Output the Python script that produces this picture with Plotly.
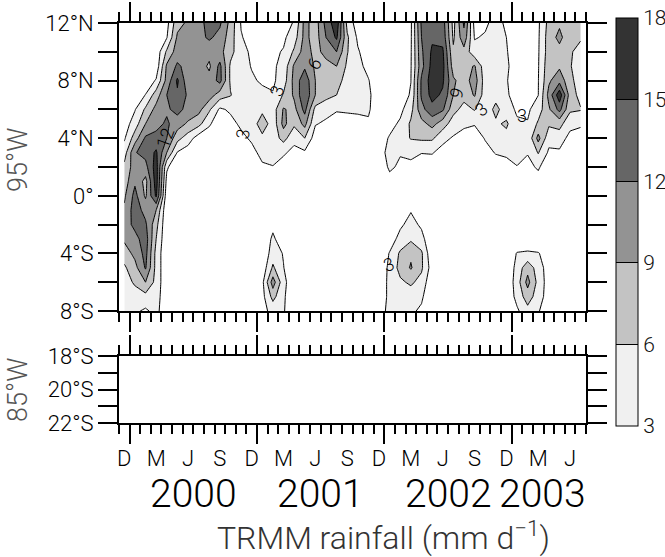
import numpy as np
import plotly.graph_objects as go

# ---------------- data ----------------
# latitude rows of the 95W Hovmoller section (north -> south)
lats = [12, 11, 10, 9, 8, 7, 6, 5, 4, 3, 2, 1, 0, -1, -2, -3, -4, -5, -6, -7, -8]

# monthly TRMM rainfall (mm/day), Dec 1999 ... Jul 2003; one list per month, values per latitude above
rain_by_month = [
    [1, 1, 1, 1, 1, 1, 1, 1.5, 2.6, 4.5, 6.8, 7.5, 8.5, 9.5, 10.5, 9.5, 7.5, 5.5, 4.5, 4.0, 4.0],      # Dec 1999
    [1, 1, 1, 1, 1, 1, 2.8, 4.5, 7.5, 11.8, 10.5, 11.5, 13, 13.5, 12.8, 11, 9.8, 8, 6.5, 4.5, 3.5],   # Jan 2000
    [1, 1, 1, 1, 1, 3.1, 6.5, 9, 12.5, 13, 11, 8, 8.5, 11, 12.5, 13.5, 13, 12.3, 9, 5, 2.5],
    [1, 1, 1, 1, 3.3, 7.5, 10, 11, 13, 15.5, 16.5, 16.5, 15.5, 9, 7, 6, 5, 5, 5, 4.5, 4],
    [2, 2.8, 6.5, 9.5, 10, 12, 11.5, 12.5, 12, 9, 3.5, 2, 1, 0.5, 0.5, 0.5, 0.5, 0.5, 0.5, 0.5, 0.5],
    [8, 9.5, 10.5, 12.5, 15.5, 14.5, 13, 10.5, 7, 2.8, 0.5, 0.5, 0.5, 0.5, 0.5, 0.5, 0.5, 0.5, 0.5, 0.5, 0.5],
    [9.5, 11, 11.5, 11, 10, 11.5, 11, 8.5, 4.5, 1.5, 0.5, 0.5, 0.5, 0.5, 0.5, 0.5, 0.5, 0.5, 0.5, 0.5, 0.5],
    [10.5, 11, 11, 10.5, 10.5, 11, 10, 7, 1.5, 0.5, 0.5, 0.5, 0.5, 0.5, 0.5, 0.5, 0.5, 0.5, 0.5, 0.5, 0.5],
    [13.5, 12.5, 10, 8.5, 10, 10.5, 6.5, 3.5, 1, 0.5, 0.5, 0.5, 0.5, 0.5, 0.5, 0.5, 0.5, 0.5, 0.5, 0.5, 0.5],
    [12.5, 11, 10, 12.8, 13, 7.5, 2.5, 0.8, 0.5, 0.5, 0.5, 0.5, 0.5, 0.5, 0.5, 0.5, 0.5, 0.5, 0.5, 0.5, 0.5],
    [8, 7.5, 7, 5.5, 5.5, 6.2, 3.5, 2, 0.5, 0.5, 0.5, 0.5, 0.5, 0.5, 0.5, 0.5, 0.5, 0.5, 0.5, 0.5, 0.5],
    [2.8, 3.2, 4, 4.5, 4.5, 4, 4, 3.6, 2.2, 0.5, 0.5, 0.5, 0.5, 0.5, 0.5, 0.5, 0.5, 0.5, 0.5, 0.5, 0.5],
    [1.5, 2, 2.5, 2.8, 3.5, 3.8, 4.5, 3.7, 3.5, 2, 0.5, 0.5, 0.5, 0.5, 0.5, 0.5, 0.5, 0.5, 0.5, 0.5, 0.5],  # Dec 2000
    [1.5, 1.5, 2, 2, 2.5, 4, 5, 8.3, 5, 4, 2.5, 0.5, 0.5, 0.5, 0.5, 0.5, 0.5, 1, 2.2, 2, 2],            # Jan 2001
    [1.5, 2, 2.5, 2.5, 2.5, 3.2, 4.5, 4, 4.5, 4, 2.9, 0.5, 0.5, 0.5, 2.2, 3.6, 4.5, 6.5, 10.5, 7, 4],
    [2, 2.5, 3.2, 4, 4.5, 6.3, 9.3, 10, 7, 3.5, 1.5, 0.5, 0.5, 0.5, 0.5, 1, 2.8, 3.1, 4, 3.5, 3.3],
    [3.2, 4.5, 6.5, 9.5, 10, 9.5, 8, 6.5, 4, 2, 0.5, 0.5, 0.5, 0.5, 0.5, 0.5, 0.5, 0.5, 0.5, 0.5, 0.5],
    [10, 10, 10.5, 11.5, 14, 14.5, 13, 10, 6, 2.5, 0.5, 0.5, 0.5, 0.5, 0.5, 0.5, 0.5, 0.5, 0.5, 0.5, 0.5],
    [7.5, 7.5, 8, 8.5, 9, 9, 5, 3.2, 1.5, 0.5, 0.5, 0.5, 0.5, 0.5, 0.5, 0.5, 0.5, 0.5, 0.5, 0.5, 0.5],
    [13, 12, 10, 8, 7.5, 7, 4, 2.5, 0.5, 0.5, 0.5, 0.5, 0.5, 0.5, 0.5, 0.5, 0.5, 0.5, 0.5, 0.5, 0.5],
    [17, 15.5, 12, 9, 7, 6, 3.3, 1.5, 0.5, 0.5, 0.5, 0.5, 0.5, 0.5, 0.5, 0.5, 0.5, 0.5, 0.5, 0.5, 0.5],
    [5, 6.5, 6.2, 5.5, 5, 4.5, 3.5, 1.5, 0.5, 0.5, 0.5, 0.5, 0.5, 0.5, 0.5, 0.5, 0.5, 0.5, 0.5, 0.5, 0.5],
    [1.5, 2.5, 3.3, 4, 4, 4, 3.5, 2, 0.5, 0.5, 0.5, 0.5, 0.5, 0.5, 0.5, 0.5, 0.5, 0.5, 0.5, 0.5, 0.5],
    [1, 1, 1.5, 2, 3.2, 3.8, 3.5, 2.5, 0.5, 0.5, 0.5, 0.5, 0.5, 0.5, 0.5, 0.5, 0.5, 0.5, 0.5, 0.5, 0.5],
    [0.5, 0.5, 0.5, 0.5, 0.5, 0.5, 0.5, 0.5, 1.5, 2, 1, 0.5, 0.5, 0.5, 0.5, 0.5, 0.5, 0.5, 0.5, 0.5, 1.5],  # Dec 2001
    [0.5, 0.5, 0.5, 0.5, 0.5, 0.5, 0.5, 2, 3.3, 3.8, 3.5, 2, 0.5, 0.5, 0.5, 1.5, 3.2, 3.8, 4, 4, 4],         # Jan 2002
    [1, 1, 1, 1, 1, 1.5, 2.2, 3.5, 4.5, 3.2, 2.5, 0.5, 0.5, 0.5, 2.5, 4, 6.5, 7, 5.5, 4.5, 3.5],
    [2.5, 2.6, 2.7, 2.8, 2.95, 3.3, 5, 6.5, 6.2, 3.5, 2.5, 0.5, 0.5, 2.8, 4, 5.5, 8.5, 9.3, 6.5, 4.5, 3.5],
    [12.5, 12, 11.5, 11, 12.5, 12.5, 11, 8, 6.5, 3.1, 1.5, 0.5, 0.5, 1, 2.5, 4, 6.5, 6.5, 5, 3.5, 2.5],
    [14, 14.5, 15.5, 16, 16.5, 16, 14, 10, 6.5, 3.2, 1.5, 0.5, 0.5, 0.5, 0.5, 0.5, 0.5, 1.5, 0.5, 0.5, 0.5],
    [13.5, 14, 15.5, 16, 15.5, 14.5, 12.5, 7.5, 3.8, 2, 0.5, 0.5, 0.5, 0.5, 0.5, 0.5, 0.5, 0.5, 0.5, 0.5, 0.5],
    [5, 5.5, 6.5, 7.5, 9.5, 9, 7, 4.5, 2.7, 0.5, 0.5, 0.5, 0.5, 0.5, 0.5, 0.5, 0.5, 0.5, 0.5, 0.5, 0.5],
    [12.5, 11, 8, 7.5, 7.5, 7, 5, 3.5, 2, 0.5, 0.5, 0.5, 0.5, 0.5, 0.5, 0.5, 0.5, 0.5, 0.5, 0.5, 0.5],
    [2, 2.8, 4, 9.3, 10.5, 9.3, 6.2, 3.2, 1.5, 0.5, 0.5, 0.5, 0.5, 0.5, 0.5, 0.5, 0.5, 0.5, 0.5, 0.5, 0.5],
    [2.5, 3.3, 4, 4.2, 4.5, 4.5, 4.2, 3.8, 3.2, 2, 0.5, 0.5, 0.5, 0.5, 0.5, 0.5, 0.5, 0.5, 0.5, 0.5, 0.5],
    [4, 4.2, 4.5, 4.5, 4.2, 5, 6.8, 5.5, 4, 3.2, 1.5, 0.5, 0.5, 0.5, 0.5, 0.5, 0.5, 0.5, 0.5, 0.5, 0.5],
    [2.5, 3, 3.2, 3.5, 3.2, 3.5, 4.5, 6.5, 5, 3.5, 2, 0.5, 0.5, 0.5, 0.5, 0.5, 0.5, 0.5, 0.5, 0.5, 0.5],    # Dec 2002
    [1.5, 1.5, 1.5, 1.5, 1.5, 1.5, 2.5, 3.5, 4.5, 4, 2.9, 0.5, 0.5, 0.5, 0.5, 0.5, 3.2, 4, 4.5, 4, 2.5],    # Jan 2003
    [1.5, 1.5, 1.5, 1.5, 1.5, 2, 2.5, 3.2, 3.5, 3.2, 2, 1, 0.5, 0.5, 0.5, 0.5, 3.5, 8, 10, 7.5, 5],
    [2.5, 2.6, 2.7, 2.8, 2.9, 2.95, 4.5, 6.5, 10, 6.2, 3.5, 1.5, 0.5, 0.5, 0.5, 0.5, 3.2, 4.5, 5, 4.5, 3.2],
    [7, 7.5, 7.5, 8, 8.5, 10, 8.5, 6.5, 4, 2.5, 0.5, 0.5, 0.5, 0.5, 0.5, 0.5, 1.5, 1.5, 1.5, 1.5, 1.5],
    [8.5, 9.8, 8, 8.5, 11, 17, 13, 7, 4.5, 2.5, 0.5, 0.5, 0.5, 0.5, 0.5, 0.5, 0.5, 0.5, 0.5, 0.5, 0.5],
    [7.5, 7, 6.5, 6.2, 6.8, 7.5, 6.5, 4, 2, 1, 0.5, 0.5, 0.5, 0.5, 0.5, 0.5, 0.5, 0.5, 0.5, 0.5, 0.5],
    [7, 6.5, 4.5, 4.5, 4.5, 5, 6.2, 3.5, 1.5, 0.5, 0.5, 0.5, 0.5, 0.5, 0.5, 0.5, 0.5, 0.5, 0.5, 0.5, 0.5],  # Jul 2003
]

contour_levels = [3, 6, 9, 12, 15, 18]
band_colors = ['#f0f0f0', '#c3c3c3', '#939393', '#666666', '#333333']

month_labels = ['D', 'M', 'J', 'S', 'D', 'M', 'J', 'S', 'D', 'M', 'J', 'S', 'D', 'M', 'J']
year_labels = ['2000', '2001', '2002', '2003']
lat_main_text = ['12°N', '8°N', '4°N', '0°', '4°S', '8°S']
lat_main_vals = [12, 8, 4, 0, -4, -8]
lat_low_text = ['18°S', '20°S', '22°S']
lat_low_vals = [-18, -20, -22]

# contour labels (text, month, lat, angle)
contour_labels = [
    ('12', 3.3, 4.0, -70), ('3', 10.7, 4.3, -80), ('3', 13.9, 7.3, -70), ('6', 17.4, 9.2, -60),
    ('9', 30.8, 7.1, -70), ('3', 33.1, 6.0, -40), ('3', 37.0, 5.6, 0), ('3', 24.4, -4.8, -20),
]

# ---------------- derived ----------------
z = np.array(rain_by_month).T            # (lat, month)
x_month = np.arange(len(rain_by_month)) - 0.5   # months since 1 Jan 2000, mid-month
month_pos = [-0.5 + 3 * i for i in range(len(month_labels))]
year_pos = [6, 18, 30, 38.9]

W, H = 665, 557
FONT = 'Roboto'
FW = 300

# contour fill colour scale (below-3 band is white)
nlev = len(contour_levels)
fill_scale = [[0.0, 'white']]
for i, c in enumerate(band_colors):
    fill_scale.append([(i + 1) / nlev, c])
fill_scale.append([1.0, band_colors[-1]])

# colour bar scale (3..18, stepped)
cb_scale = []
nb = len(band_colors)
for i, c in enumerate(band_colors):
    cb_scale.append([i / nb, c])
    cb_scale.append([(i + 1) / nb, c])

fig = go.Figure()

fig.add_trace(go.Contour(
    x=x_month, y=lats, z=z,
    contours=dict(start=contour_levels[0], end=contour_levels[-1], size=3, coloring='fill', showlines=True),
    colorscale=fill_scale, showscale=False,
    line=dict(color='black', width=1, smoothing=0),
    hoverinfo='skip', xaxis='x', yaxis='y',
))

# colour bar carrier
fig.add_trace(go.Scatter(
    x=[None], y=[None], mode='markers', xaxis='x', yaxis='y', showlegend=False, hoverinfo='skip',
    marker=dict(color=[contour_levels[0]], cmin=contour_levels[0], cmax=contour_levels[-1],
                colorscale=cb_scale, showscale=True,
                colorbar=dict(xref='container', yref='container',
                              x=616 / W, xanchor='left', y=1 - 18 / H, yanchor='top',
                              len=(426 - 18) / H, lenmode='fraction', thickness=22, thicknessmode='pixels',
                              outlinewidth=1, outlinecolor='black', borderwidth=0, xpad=0, ypad=0,
                              tickvals=contour_levels, ticktext=[str(v) for v in contour_levels],
                              ticks='inside', ticklen=22, tickwidth=1, tickcolor='black',
                              tickfont=dict(family=FONT, size=21, color='#111', weight=FW))),
))

# empty lower panel & month-label axis
fig.add_trace(go.Scatter(x=[None], y=[None], xaxis='x2', yaxis='y2', showlegend=False, hoverinfo='skip'))
fig.add_trace(go.Scatter(x=[None], y=[None], xaxis='x3', yaxis='y2', showlegend=False, hoverinfo='skip'))

xdom = [119 / W, 586 / W]
common_x = dict(range=[-1, 43], showline=True, linewidth=2, linecolor='black', mirror='ticks',
                ticks='outside', tickvals=[0, 12, 24, 36], ticklen=19, tickwidth=2, tickcolor='black',
                minor=dict(dtick=1, tick0=0, ticks='outside', ticklen=9, tickwidth=2, tickcolor='black'),
                showticklabels=False, showgrid=False, zeroline=False, domain=xdom, automargin=False)
common_y = dict(showline=True, linewidth=2, linecolor='black', mirror='ticks',
                ticks='outside', ticklen=19, tickwidth=2, tickcolor='black', automargin=False,
                showgrid=False, zeroline=False, tickfont=dict(family=FONT, size=22, color='black', weight=FW))

fig.update_layout(
    width=W, height=H, margin=dict(l=0, r=0, t=0, b=0, autoexpand=False),
    paper_bgcolor='white', plot_bgcolor='white', showlegend=False,
    xaxis=dict(**common_x, anchor='y'),
    yaxis=dict(**common_y, anchor='x', domain=[1 - 311 / H, 1 - 23 / H], range=[-8, 12],
               tickvals=lat_main_vals, ticktext=lat_main_text,
               minor=dict(dtick=2, tick0=0, ticks='outside', ticklen=19, tickwidth=2, tickcolor='black')),
    xaxis2=dict(**common_x, anchor='y2'),
    yaxis2=dict(**common_y, anchor='x2', domain=[1 - 423 / H, 1 - 356 / H], range=[-22, -18],
                tickvals=lat_low_vals, ticktext=lat_low_text,
                minor=dict(dtick=1, tick0=0, ticks='outside', ticklen=19, tickwidth=2, tickcolor='black')),
    xaxis3=dict(overlaying='x2', anchor='y2', range=[-1, 43], side='bottom', showline=False, showgrid=False,
                zeroline=False, ticks='', tickvals=month_pos, ticktext=month_labels, automargin=False,
                ticklabelstandoff=20, tickfont=dict(family=FONT, size=22, color='black', weight=FW)),
)

ann = []
for t, xp in zip(year_labels, year_pos):
    ann.append(dict(text=t, x=xp, xref='x2', y=1 - 494 / H, yref='paper', showarrow=False,
                    xanchor='center', yanchor='middle', font=dict(family=FONT, size=39, color='black', weight=FW)))
ann.append(dict(text='TRMM rainfall (mm d<sup>−1</sup>)', x=383 / W, y=1 - 536 / H, xref='paper', yref='paper',
                showarrow=False, xanchor='center', yanchor='middle',
                font=dict(family=FONT, size=32, color='#333', weight=FW)))
ann.append(dict(text='95°W', x=18 / W, y=1 - 160 / H, xref='paper', yref='paper', textangle=-90,
                showarrow=False, xanchor='center', yanchor='middle',
                font=dict(family=FONT, size=27, color='#555', weight=FW)))
ann.append(dict(text='85°W', x=18 / W, y=1 - 390 / H, xref='paper', yref='paper', textangle=-90,
                showarrow=False, xanchor='center', yanchor='middle',
                font=dict(family=FONT, size=27, color='#555', weight=FW)))
for t, xm, yl, ang in contour_labels:
    ann.append(dict(text=t, x=xm, y=yl, xref='x', yref='y', textangle=ang, showarrow=False,
                    font=dict(family=FONT, size=18, color='black', weight=FW)))
fig.update_layout(annotations=ann)

fig.write_html('out.html')
